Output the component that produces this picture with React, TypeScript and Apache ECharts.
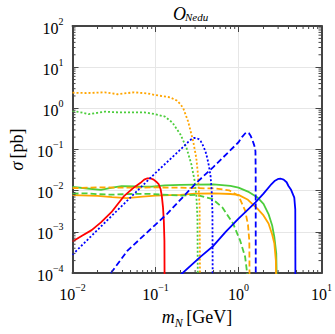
import React, { useEffect, useRef } from "react";
import * as echarts from "echarts";

// ---- data (x: m_N in GeV, y: sigma in pb) ----
const redSolidX = [0.01, 0.013, 0.017, 0.022, 0.0294, 0.042, 0.055, 0.066, 0.073, 0.08, 0.088, 0.095, 0.102, 0.109, 0.115, 0.119, 0.123, 0.126, 0.128, 0.129];
const redSolidY = [5.8e-4, 8.0e-4, 1.1e-3, 1.7e-3, 3.0e-3, 7.5e-3, 1.2e-2, 1.55e-2, 1.85e-2, 2.0e-2, 1.98e-2, 1.85e-2, 1.65e-2, 1.45e-2, 1.1e-2, 7.5e-3, 4e-3, 1.8e-3, 6e-4, 1e-5];

const blueDottedX = [0.01, 0.03, 0.1, 0.2, 0.25, 0.27, 0.29, 0.31, 0.33, 0.35, 0.37, 0.4, 0.42, 0.44, 0.46, 0.475, 0.485, 0.49];
const blueDottedY = [2.8e-4, 2.5e-3, 2.7e-2, 0.1, 0.155, 0.177, 0.19, 0.19, 0.18, 0.16, 0.13, 0.09, 0.062, 0.04, 0.023, 0.01, 3e-3, 1e-5];

const blueDashedX = [0.029, 0.046, 0.1, 0.137, 0.31, 0.5, 1.0, 1.1, 1.2, 1.26, 1.33, 1.4, 1.47, 1.53, 1.58, 1.6, 1.61, 1.615];
const blueDashedY = [1e-4, 3.5e-4, 1.5e-3, 2.7e-3, 0.0155, 0.038, 0.15, 0.2, 0.245, 0.26, 0.25, 0.215, 0.17, 0.135, 0.11, 0.09, 0.03, 1e-5];

const blueSolidX = [0.2, 0.35, 0.5, 0.7, 1.0, 1.6, 2.0, 2.5, 2.75, 3.0, 3.25, 3.5, 3.8, 4.0, 4.3, 4.7, 4.83, 4.86];
const blueSolidY = [9e-5, 2.5e-4, 4.6e-4, 1e-3, 2.1e-3, 5.2e-3, 8.5e-3, 0.0145, 0.0175, 0.0193, 0.0195, 0.0185, 0.016, 0.013, 0.0105, 6.8e-3, 3.5e-3, 1e-5];

const greenSolidX = [0.01, 0.015, 0.022, 0.03, 0.039, 0.06, 0.09, 0.13, 0.2, 0.3, 0.5, 0.8, 1.0, 1.3, 1.7, 2.0, 2.3, 2.55, 2.7, 2.85, 2.94];
const greenSolidY = [0.0123, 0.0113, 0.0104, 0.0118, 0.0129, 0.0127, 0.0126, 0.0134, 0.0138, 0.014, 0.0142, 0.013, 0.0118, 0.0095, 6.8e-3, 4.8e-3, 2.7e-3, 1.4e-3, 7.5e-4, 3e-4, 1e-5];

const orangeSolidX = [0.01, 0.02, 0.03, 0.045, 0.07, 0.1, 0.15, 0.2, 0.3, 0.5, 0.8, 1.0, 1.3, 1.7, 2.0, 2.3, 2.55, 2.7, 2.82, 2.87];
const orangeSolidY = [7.8e-3, 7.5e-3, 7.0e-3, 6.6e-3, 7.2e-3, 7.6e-3, 7.8e-3, 7.9e-3, 8.5e-3, 8.6e-3, 8.3e-3, 7.9e-3, 6.0e-3, 3.6e-3, 2.5e-3, 1.6e-3, 8.5e-4, 5.3e-4, 2e-4, 1e-5];

const greenDashedX = [0.01, 0.015, 0.02, 0.03, 0.05, 0.08, 0.12, 0.2, 0.31, 0.49, 0.64, 0.86, 1.05, 1.2, 1.27, 1.29];
const greenDashedY = [8.5e-3, 8.6e-3, 8.2e-3, 8.0e-3, 8.3e-3, 8.4e-3, 8.0e-3, 7.6e-3, 7.9e-3, 6.2e-3, 3.9e-3, 1.6e-3, 6e-4, 2.5e-4, 1e-4, 1e-5];

const orangeDashedX = [0.01, 0.02, 0.05, 0.1, 0.2, 0.3, 0.53, 0.77, 1.0, 1.2, 1.3, 1.35, 1.365];
const orangeDashedY = [0.0115, 0.012, 0.0118, 0.012, 0.0118, 0.0115, 0.0113, 0.0102, 7.5e-3, 3.3e-3, 1.5e-3, 6e-4, 1e-5];

const orangeDottedX = [0.01, 0.015, 0.0245, 0.035, 0.055, 0.08, 0.1, 0.15, 0.18, 0.2, 0.216, 0.247, 0.284, 0.31, 0.325, 0.34, 0.345];
const orangeDottedY = [2.4, 2.35, 2.45, 2.2, 2.45, 2.3, 2.1, 1.85, 1.55, 1.25, 1.0, 0.48, 0.16, 0.062, 0.024, 3.9e-3, 1e-5];

const greenDottedX = [0.01, 0.0125, 0.0156, 0.02, 0.0245, 0.035, 0.05, 0.073, 0.1, 0.13, 0.16, 0.2, 0.236, 0.27, 0.295, 0.31, 0.32, 0.325];
const greenDottedY = [0.86, 0.8, 0.72, 0.78, 0.83, 0.8, 0.8, 0.8, 0.72, 0.63, 0.45, 0.23, 0.11, 0.044, 0.018, 8e-3, 2.2e-3, 1e-5];

const xMajorTicks = [0.01, 0.1, 1, 10];
const yMajorTicks = [1e-4, 1e-3, 1e-2, 1e-1, 1, 10, 100];

const titleMain = "O";
const titleSub = "Nedu";

const RED = "#ff0000";
const BLUE = "#0000ff";
const GREEN = "#4ccd3c";
const ORANGE = "#ffa500";

const zip = (xs: number[], ys: number[]) => xs.map((x, i) => [x, ys[i]]);

const minorValues = (majors: number[]) => {
  const out: number[] = [];
  for (let i = 0; i < majors.length - 1; i++) {
    for (let k = 2; k <= 9; k++) out.push(majors[i] * k);
  }
  return out;
};

const supLabel = (v: number) => {
  const e = Math.round(Math.log10(v));
  const s = e < 0 ? "\u2212" + -e : String(e);
  return `{b|10}{s|${s}}`;
};

const FONT = "Liberation Serif";
const FRAME = "#444";

const labelRich = {
  b: { fontSize: 16, fontFamily: FONT, color: "#000", lineHeight: 20, verticalAlign: "bottom" },
  s: { fontSize: 10, fontFamily: FONT, color: "#000", lineHeight: 20, verticalAlign: "top" },
};

export default function App() {
  const ref = useRef<HTMLDivElement>(null);
  useEffect(() => {
    if (!ref.current) return;
    const chart = echarts.init(ref.current, null, { renderer: "svg" });
    const xMin = xMajorTicks[0];
    const xMax = xMajorTicks[xMajorTicks.length - 1];
    const yMin = yMajorTicks[0];
    const yMax = yMajorTicks[yMajorTicks.length - 1];

    const axisCommon = (showLabel: boolean) => ({
      type: "log" as const,
      logBase: 10,
      axisLine: { show: true, onZero: false, lineStyle: { color: FRAME, width: 2 } },
      axisTick: { show: true, inside: true, length: 6, lineStyle: { color: FRAME, width: 1 } },
      minorTick: { show: false },
      axisLabel: showLabel
        ? { show: true, formatter: supLabel, rich: labelRich, margin: 9 }
        : { show: false },
    });

    const line = (name: string, xs: number[], ys: number[], color: string, type: any) => ({
      name,
      type: "line",
      data: zip(xs, ys),
      showSymbol: false,
      symbol: "none",
      smooth: false,
      clip: true,
      lineStyle: { color, width: 1.8, type },
      z: 3,
    });

    const DOT = [2, 2];
    const DASH = [6, 3];

    chart.setOption({
      animation: false,
      backgroundColor: "#fff",
      graphic: [
        {
          type: "text",
          left: 173,
          top: 5,
          style: { text: titleMain, font: `italic 18px "${FONT}"`, fill: "#000" },
        },
        {
          type: "text",
          left: 185,
          top: 11,
          style: { text: titleSub, font: `italic 11px "${FONT}"`, fill: "#000" },
        },
      ],
      grid: { left: 67, right: 13, top: 26, bottom: 58, containLabel: false },
      xAxis: [
        {
          ...axisCommon(true),
          min: xMin,
          max: xMax,
          splitNumber: 3,
          position: "bottom",
          splitLine: { show: true, lineStyle: { color: "#e6e6e6", width: 1 } },
          name: "{i|m}{n|N} {r|[GeV]}",
          nameLocation: "middle",
          nameGap: 31,
          nameTextStyle: {
            rich: {
              i: { fontSize: 18, fontFamily: FONT, fontStyle: "italic", color: "#000", lineHeight: 22, verticalAlign: "bottom" },
              n: { fontSize: 12, fontFamily: FONT, fontStyle: "italic", color: "#000", lineHeight: 22, verticalAlign: "bottom", padding: [0, 0, -3, 0] },
              r: { fontSize: 18, fontFamily: FONT, color: "#000", lineHeight: 22, verticalAlign: "bottom" },
            },
          },
        },
        {
          ...axisCommon(false),
          min: xMin,
          max: xMax,
          splitNumber: 3,
          position: "top",
          splitLine: { show: false },
        },
      ],
      yAxis: [
        {
          ...axisCommon(true),
          min: yMin,
          max: yMax,
          splitNumber: 6,
          position: "left",
          splitLine: { show: true, lineStyle: { color: "#e6e6e6", width: 1 } },
          name: "{i|\u03C3} {r|[pb]}",
          nameLocation: "middle",
          nameGap: 46,
          nameTextStyle: {
            rich: {
              i: { fontSize: 18, fontFamily: FONT, fontStyle: "italic", color: "#000" },
              r: { fontSize: 18, fontFamily: FONT, color: "#000" },
            },
          },
        },
        {
          ...axisCommon(false),
          min: yMin,
          max: yMax,
          splitNumber: 6,
          position: "right",
          splitLine: { show: false },
        },
      ],
      series: [
        line("greenSolid", greenSolidX, greenSolidY, GREEN, "solid"),
        line("orangeSolid", orangeSolidX, orangeSolidY, ORANGE, "solid"),
        line("greenDashed", greenDashedX, greenDashedY, GREEN, DASH),
        line("orangeDashed", orangeDashedX, orangeDashedY, ORANGE, DASH),
        line("greenDotted", greenDottedX, greenDottedY, GREEN, DOT),
        line("orangeDotted", orangeDottedX, orangeDottedY, ORANGE, DOT),
        line("redSolid", redSolidX, redSolidY, RED, "solid"),
        line("blueDotted", blueDottedX, blueDottedY, BLUE, DOT),
        line("blueDashed", blueDashedX, blueDashedY, BLUE, DASH),
        line("blueSolid", blueSolidX, blueSolidY, BLUE, "solid"),
        {
          type: "custom",
          silent: true,
          z: 5,
          data: minorValues(xMajorTicks).map((v) => [v, 1]),
          encode: { x: 0, y: 1 },
          renderItem: (_p: any, api: any) => {
            const v = api.value(0);
            const b = api.coord([v, yMin]);
            const t = api.coord([v, yMax]);
            const st = { stroke: FRAME, lineWidth: 1 };
            return {
              type: "group",
              children: [
                { type: "line", shape: { x1: b[0], y1: b[1], x2: b[0], y2: b[1] - 3 }, style: st },
                { type: "line", shape: { x1: t[0], y1: t[1], x2: t[0], y2: t[1] + 3 }, style: st },
              ],
            };
          },
        },
        {
          type: "custom",
          silent: true,
          z: 5,
          data: minorValues(yMajorTicks).map((v) => [1, v]),
          encode: { x: 0, y: 1 },
          renderItem: (_p: any, api: any) => {
            const v = api.value(1);
            const l = api.coord([xMin, v]);
            const r = api.coord([xMax, v]);
            const st = { stroke: FRAME, lineWidth: 1 };
            return {
              type: "group",
              children: [
                { type: "line", shape: { x1: l[0], y1: l[1], x2: l[0] + 3, y2: l[1] }, style: st },
                { type: "line", shape: { x1: r[0], y1: r[1], x2: r[0] - 3, y2: r[1] }, style: st },
              ],
            };
          },
        },
      ],
    });
    return () => chart.dispose();
  }, []);
  return (
    <div
      ref={ref}
      style={{ position: "fixed", left: 0, top: 0, width: 335, height: 334, background: "#fff" }}
    />
  );
}
